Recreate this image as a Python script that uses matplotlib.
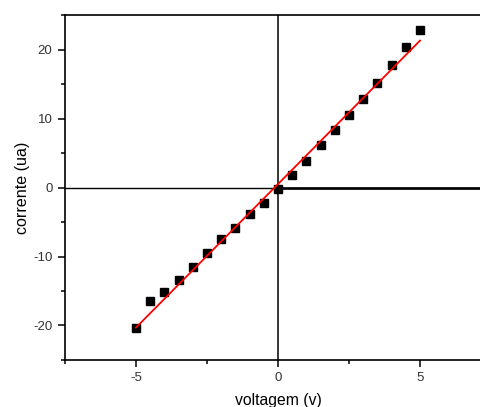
import matplotlib
matplotlib.use("Agg")
import matplotlib.pyplot as plt
from matplotlib.ticker import MultipleLocator

plt.rcParams['font.family'] = ['Liberation Sans', 'DejaVu Sans']
plt.rcParams['axes.unicode_minus'] = False

voltage = [-5, -4.5, -4, -3.5, -3, -2.5, -2, -1.5, -1, -0.5, 0,
           0.5, 1, 1.5, 2, 2.5, 3, 3.5, 4, 4.5, 5]
current = [-20.4, -16.5, -15.2, -13.4, -11.5, -9.5, -7.5, -5.8, -3.9, -2.2, -0.2,
           1.8, 3.9, 6.1, 8.3, 10.5, 12.8, 15.1, 17.7, 20.4, 22.8]
fit_x = [-5, 5]
fit_y = [-20.3, 21.3]

fig = plt.figure(figsize=(4.8, 4.07), dpi=100)
ax = fig.add_axes([0.1354, 0.1155, 0.8876, 0.8475])

ax.axvline(0, color='black', lw=1.1, zorder=1)
ax.axhline(0, color='black', lw=1.0, zorder=1)
ax.plot([0, 7.5], [0, 0], color='black', lw=1.9, zorder=1)

ax.plot(voltage, current, linestyle='none', marker='s', markersize=6.3,
        color='black', zorder=3)
ax.plot(fit_x, fit_y, color='red', lw=1.3, zorder=4)

ax.set_xlim(-7.5, 7.5)
ax.set_ylim(-25, 25)
ax.xaxis.set_major_locator(MultipleLocator(5))
ax.xaxis.set_minor_locator(MultipleLocator(2.5))
ax.yaxis.set_major_locator(MultipleLocator(10))
ax.yaxis.set_minor_locator(MultipleLocator(5))

for s in ax.spines.values():
    s.set_linewidth(1.2)
ax.tick_params(which='major', direction='out', length=5, width=1.1, labelsize=9.5,
               colors='black', pad=4)
ax.tick_params(which='minor', direction='out', length=3, width=1.1)
for lbl in ax.get_xticklabels() + ax.get_yticklabels():
    lbl.set_color('#333333')

ax.set_xlabel('voltagem (v)', fontsize=11.3, labelpad=6)
ax.set_ylabel('corrente (ua)', fontsize=11.6, labelpad=2)

fig.savefig('out.png', dpi=100)
